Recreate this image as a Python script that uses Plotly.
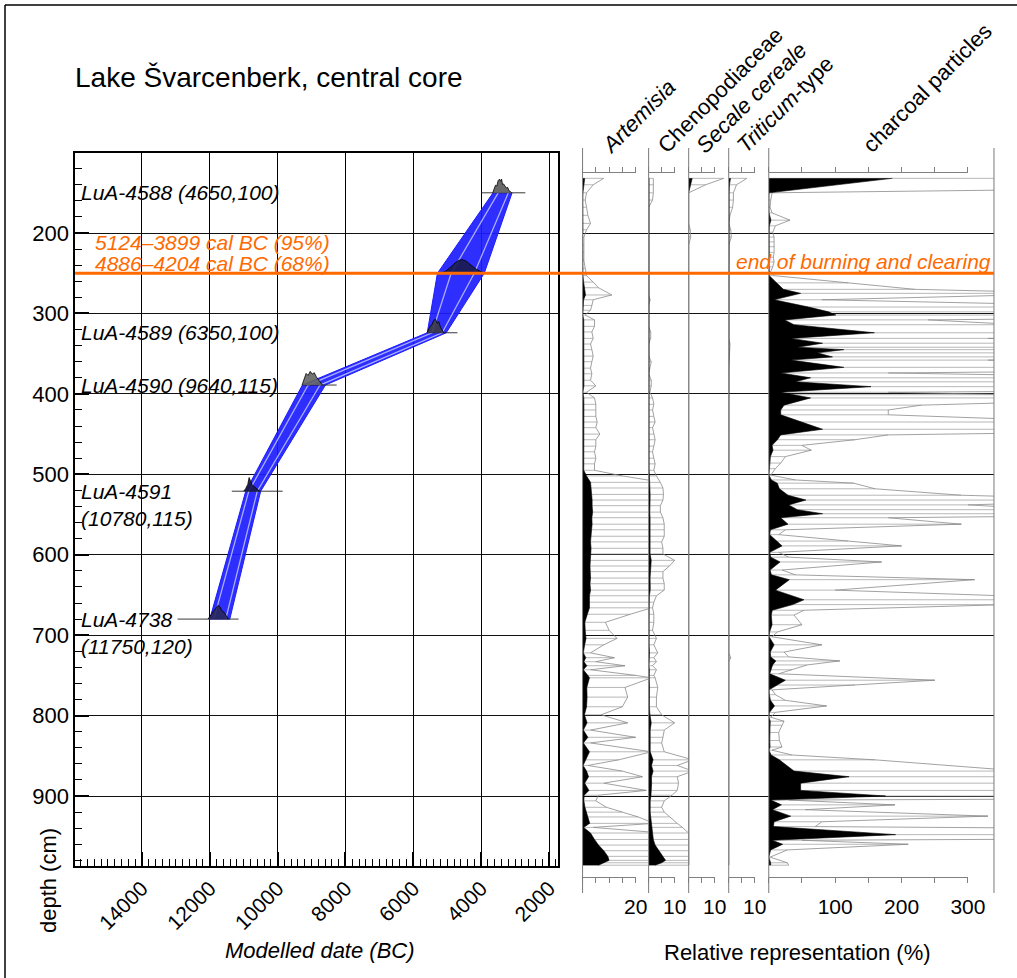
import plotly.graph_objects as go

W, H = 1017, 978          # reference picture size (positions below are in these pixels)
FIG_W = 1036              # page width seen by the headless browser before it is photographed at 1017
FONT = "Liberation Sans, Arial, Helvetica, sans-serif"


def fx(p):
    return p / W


def fy(p):
    return 1 - p / H


# ---------------- chronology data ----------------
title_text = "Lake Švarcenberk, central core"
lab_codes = ["LuA-4588", "LuA-4589", "LuA-4590", "LuA-4591", "LuA-4738"]
c14_age = [4650, 6350, 9640, 10780, 11750]
c14_err = [100, 100, 115, 115, 120]
sample_depth = [150, 324, 389, 521, 680]
cal_old = [4000, 5590, 9270, 11350, 12950]
cal_young = [2700, 4700, 8260, 9850, 11150]
label_two_lines = [False, False, False, True, True]

boundary_depth = 250
boundary_old = 5500
boundary_young = 3235
boundary_label = "end of burning and clearing"
boundary_95 = "5124–3899 cal BC (95%)"
boundary_68 = "4886–4204 cal BC (68%)"

model_depth = [150, 250, 324, 389, 521, 680]
model_old95 = [3650, 5290, 5590, 9270, 10940, 12000]
model_young95 = [3090, 3910, 5030, 8590, 10500, 11410]
model_old68 = [3500, 4886, 5450, 9100, 10850, 11880]
model_young68 = [3200, 4204, 5150, 8750, 10600, 11530]

# probability distributions (relative) drawn above each dated level
dist_4588_dates = [3660, 3620, 3580, 3540, 3500, 3460, 3430, 3400, 3370, 3340, 3300, 3260, 3220, 3180, 3140, 3100]
dist_4588_prob = [0, 0.25, 0.55, 0.5, 0.9, 1.0, 0.85, 1.0, 0.6, 0.65, 0.5, 0.35, 0.4, 0.15, 0.1, 0]
dist_bound_dates = [5200, 5050, 4900, 4750, 4650, 4560, 4450, 4300, 4150, 4000, 3850]
dist_bound_prob = [0, 0.15, 0.45, 0.8, 0.95, 1.0, 0.9, 0.6, 0.3, 0.1, 0]
dist_4589_dates = [5600, 5550, 5500, 5450, 5400, 5350, 5300, 5250, 5200, 5150, 5100]
dist_4589_prob = [0, 0.3, 0.5, 0.6, 0.9, 1.0, 0.7, 0.8, 0.4, 0.2, 0]
dist_4590_dates = [9280, 9220, 9160, 9100, 9040, 8980, 8920, 8860, 8800, 8740, 8680]
dist_4590_prob = [0, 0.4, 0.85, 0.7, 1.0, 0.8, 0.9, 0.6, 0.4, 0.2, 0]
dist_4591_dates = [11000, 10940, 10880, 10840, 10800, 10760, 10700, 10640, 10580, 10530]
dist_4591_prob = [0, 0.2, 0.5, 1.0, 0.75, 0.5, 0.35, 0.2, 0.1, 0]
dist_4738_dates = [12050, 11980, 11900, 11820, 11760, 11700, 11640, 11580, 11520, 11450]
dist_4738_prob = [0, 0.3, 0.55, 0.8, 1.0, 0.9, 0.6, 0.5, 0.25, 0]

# ---------------- pollen data (%) ----------------
pollen_depth = [132, 140, 150, 159, 168, 178, 188, 196, 205, 215, 224, 234, 244, 253, 261, 268, 277, 283,
                290, 296, 302, 308, 316, 323, 331, 338, 345, 353, 360, 368, 375, 383, 390, 398, 405, 413,
                420, 428, 435, 442, 450, 457, 465, 472, 480, 487, 495, 502, 510, 517, 525, 532, 539, 547,
                554, 562, 569, 577, 584, 592, 599, 607, 614, 621, 629, 636, 644, 651, 659, 666, 674, 684,
                694, 704, 712, 722, 728, 733, 738, 743, 750, 753, 765, 777, 789, 799, 809, 818, 827, 834,
                845, 855, 862, 869, 876, 884, 893, 899, 906, 914, 920, 926, 934, 939, 946, 954, 961, 968,
                975, 980, 983, 986]
artemisia = [0.8, 0.4, 0.15, 0.1, 0.15, 0.2, 0.3, 0.15, 0.05, 0.05, 0.05, 0.05, 0.1, 0.15, 0.4, 0.6, 1.1, 0.4,
             0.35, 0.3, 0.1, 0.45, 0.45, 0.35, 0.4, 0.3, 0.35, 0.4, 0.35, 0.3, 0.35, 0.3, 0.5, 0.15, 0.45, 0.5,
             0.5, 0.5, 0.55, 0.5, 0.65, 0.5, 0.5, 0.45, 0.5, 0.45, 0.45, 1.5, 3.0, 3.2, 3.5, 3.6, 3.6, 3.8,
             3.5, 3.6, 3.4, 3.2, 3.0, 3.2, 3.0, 3.0, 2.8, 2.9, 3.0, 2.8, 3.0, 2.6, 2.6, 2.6, 1.8, 0.86,
             1.0, 1.3, 0.8, 0.3, 1.2, 0.5, 1.6, 0.3, 2.0, 2.6, 1.6, 1.7, 1.5, 0.7, 1.7, 0.3, 2.0, 0.3,
             2.6, 1.36, 0.2, 1.5, 2.26, 0.8, 2.4, 0.6, 0.5, 0.9, 1.5, 2.1, 2.7, 0.4, 3.0, 4.5, 6.0, 8.0,
             9.5, 10.0, 8.0, 6.0]
chenopodiaceae = [0.18, 0.18, 0.18, 0.15, 0, 0, 0, 0, 0, 0, 0, 0, 0, 0, 0, 0, 0, 0.06,
                  0, 0, 0, 0, 0, 0.08, 0.08, 0, 0, 0, 0.1, 0.05, 0, 0.1, 0.1, 0.05, 0.15, 0.2,
                  0.15, 0.2, 0.25, 0.15, 0.2, 0.25, 0.2, 0.15, 0.2, 0.25, 0.2, 0.3, 0.45, 0.55, 0.57, 0.55, 0.45, 0.45,
                  0.55, 0.6, 0.6, 0.6, 0.5, 0.55, 0.55, 1.0, 0.8, 0.55, 0.55, 0.6, 0.6, 0.3, 0.2, 0.15, 0.2, 0.2,
                  0.15, 0.3, 0.2, 0.35, 0.2, 0.3, 0.15, 0.3, 0.2, 0.25, 0.35, 0.3, 0.3, 0.5, 1.0, 0.6, 0.55, 0.5,
                  0.6, 1.7, 1.1, 1.7, 1.1, 1.15, 1.1, 0.9, 0.6, 0.5, 0.6, 0.8, 1.1, 1.3, 1.5, 1.8, 2.5, 4.0,
                  5.5, 6.5, 5.0, 2.5]
secale_cereale = [1.35, 0.65, 0, 0, 0, 0, 0, 0.06, 0.08, 0, 0, 0, 0, 0, 0, 0, 0, 0,
                  0, 0, 0, 0, 0, 0, 0, 0, 0, 0, 0, 0, 0, 0, 0, 0, 0, 0,
                  0, 0, 0, 0, 0, 0, 0, 0, 0, 0, 0, 0, 0, 0, 0, 0, 0, 0,
                  0, 0, 0, 0, 0, 0, 0, 0, 0, 0, 0, 0, 0, 0, 0, 0, 0, 0,
                  0, 0, 0, 0, 0, 0, 0, 0, 0, 0, 0, 0, 0, 0, 0, 0, 0, 0,
                  0, 0, 0, 0, 0, 0, 0, 0, 0, 0, 0, 0, 0, 0, 0, 0, 0, 0,
                  0, 0, 0, 0]
triticum_type = [0.7, 0.3, 0.18, 0.18, 0.15, 0.05, 0, 0.08, 0.1, 0, 0, 0, 0, 0, 0, 0, 0, 0,
                 0, 0, 0, 0, 0, 0, 0, 0.05, 0.04, 0, 0, 0, 0, 0, 0, 0, 0, 0,
                 0, 0, 0, 0, 0, 0, 0, 0, 0, 0, 0, 0, 0, 0, 0, 0, 0, 0,
                 0, 0, 0, 0, 0, 0, 0, 0, 0, 0, 0, 0, 0, 0, 0, 0, 0, 0,
                 0, 0, 0, 0, 0.08, 0, 0, 0, 0, 0, 0, 0, 0, 0, 0, 0, 0, 0,
                 0, 0, 0, 0, 0, 0, 0, 0, 0, 0, 0, 0, 0, 0, 0, 0, 0, 0,
                 0, 0, 0, 0]

charcoal_depth = [132, 150, 159, 168, 175, 184, 191, 199, 205, 211, 217, 224, 230, 236, 242, 248, 253, 262,
                  270, 275, 283, 292, 298, 302, 308, 314, 324, 331, 337, 342, 345, 349, 354, 358, 367, 374,
                  380, 385, 391, 398, 401, 405, 414, 420, 426, 435, 444, 451, 457, 464, 470, 478, 486, 493,
                  501, 507, 511, 518, 526, 532, 538, 544, 549, 554, 562, 569, 575, 583, 589, 597, 603, 609,
                  619, 625, 631, 644, 656, 662, 669, 675, 687, 696, 702, 712, 721, 727, 732, 737, 743, 748,
                  756, 762, 768, 774, 781, 788, 796, 802, 807, 812, 821, 831, 839, 843, 849, 855, 869, 876,
                  884, 893, 900, 905, 911, 917, 925, 932, 938, 948, 955, 960, 967, 976, 983, 986]
charcoal_particles = [186, 0.5, 0.3, 0.2, 0.5, 3.2, 1.0, 0.6, 0.8, 0.8, 0.9, 0.8, 0.7, 0.8, 0.6, 0.3, 0.8, 12,
                      22, 48, 8, 60, 90, 101, 24, 38, 159, 33, 81, 43, 113, 73, 96, 33, 113, 18,
                      63, 40, 154, 18, 38, 63, 23, 18, 18, 50, 81, 18, 13, 5, 6.4, 2.5, 1.8, 1.0,
                      0.3, 4, 12.8, 16, 29, 56, 30, 43, 81, 18, 29, 2.5, 1.5, 12, 20, 1.5, 3, 17,
                      2, 4, 31, 10, 53, 36, 5.3, 3.8, 5, 1.3, 0.5, 8, 2.3, 3, 10.7, 5.8, 3.5, 1.5,
                      25, 13, 0.5, 1, 2.5, 8.7, 1, 0.3, 2.3, 2.0, 1.5, 1.6, 2, 0.5, 3.5, 16, 38, 121,
                      48, 48, 176, 3, 19, 5.5, 33, 8, 7, 191, 5, 21, 2.8, 0.2, 2.8, 3]

EXAG = 10  # exaggeration factor of the outline curves

panel_names = ["<i>Artemisia</i>", "Chenopodiaceae", "<i>Secale cereale</i>", "<i>Triticum</i>-type",
               "charcoal particles"]
panel_depths = [pollen_depth, pollen_depth, pollen_depth, pollen_depth, charcoal_depth]
panel_values = [artemisia, chenopodiaceae, secale_cereale, triticum_type, charcoal_particles]
scale_tickvals = [[0, 5, 10, 15, 20], [0, 5, 10], [0, 5, 10], [0, 5, 10], [0, 50, 100, 150, 200, 250, 300]]
scale_ticktext = [["", "", "", "", "20"], ["", "", "10"], ["", "", "10"], ["", "", "10"],
                  ["", "", "100", "", "200", "", "300"]]

# ---------------- layout geometry (pixels) ----------------
panel_left = [582, 648, 688, 728, 768]
panel_right = [648, 688, 728, 768, 993]
panel_max = [24.9, 15.4, 15.4, 15.4, 339.2]
header_center = [(638, 117), (719, 90), (751, 98), (784, 104), (927, 88)]
HUMP_H = 17

fig = go.Figure()

# ----- age-depth model band -----
fig.add_trace(go.Scatter(
    x=model_old95 + model_young95[::-1], y=model_depth + model_depth[::-1],
    fill="toself", fillcolor="rgba(28,28,255,0.92)", mode="lines",
    line=dict(color="#1c1cff", width=1), hoverinfo="skip", xaxis="x", yaxis="y"))
for series in (model_old68, model_young68):
    fig.add_trace(go.Scatter(x=series, y=model_depth, mode="lines",
                             line=dict(color="#a9aeff", width=1.3), hoverinfo="skip",
                             xaxis="x", yaxis="y"))

# ----- calibrated ranges (horizontal lines) -----
lx, ly = [], []
for o, yng, d in zip(cal_old + [boundary_old], cal_young + [boundary_young], sample_depth + [boundary_depth]):
    lx += [o, yng, None]
    ly += [d, d, None]
fig.add_trace(go.Scatter(x=lx, y=ly, mode="lines", line=dict(color="#222", width=0.9),
                         hoverinfo="skip", xaxis="x", yaxis="y"))

# ----- probability humps -----
humps = [
    (dist_4588_dates, dist_4588_prob, sample_depth[0], "rgba(90,90,90,0.9)"),
    (dist_bound_dates, dist_bound_prob, boundary_depth, "rgba(28,28,80,0.92)"),
    (dist_4589_dates, dist_4589_prob, sample_depth[1], "rgba(60,60,70,0.9)"),
    (dist_4590_dates, dist_4590_prob, sample_depth[2], "rgba(100,100,100,0.9)"),
    (dist_4591_dates, dist_4591_prob, sample_depth[3], "rgba(25,25,70,0.92)"),
    (dist_4738_dates, dist_4738_prob, sample_depth[4], "rgba(40,40,90,0.9)"),
]
for dates, prob, d, col in humps:
    fig.add_trace(go.Scatter(x=dates, y=[d - p * HUMP_H for p in prob], fill="toself",
                             fillcolor=col, mode="lines", line=dict(color="black", width=0.8),
                             hoverinfo="skip", xaxis="x", yaxis="y"))

# ----- pollen / charcoal panels -----
for i, (deps, vals) in enumerate(zip(panel_depths, panel_values)):
    ax = "x%d" % (i + 2)
    hx, hy = [], []
    for d, v in zip(deps, vals):
        hx += [0, v * EXAG, None]
        hy += [d, d, None]
    fig.add_trace(go.Scatter(x=hx, y=hy, mode="lines", line=dict(color="#9a9a9a", width=0.7),
                             hoverinfo="skip", xaxis=ax, yaxis="y"))
    fig.add_trace(go.Scatter(x=[v * EXAG for v in vals], y=deps, mode="lines",
                             line=dict(color="#8a8a8a", width=0.8), hoverinfo="skip",
                             xaxis=ax, yaxis="y"))
    fig.add_trace(go.Scatter(x=vals, y=deps, mode="lines", fill="tozerox", fillcolor="black",
                             line=dict(color="black", width=0.6), hoverinfo="skip",
                             xaxis=ax, yaxis="y"))
    # invisible trace so the scale-bar axis is drawn
    fig.add_trace(go.Scatter(x=[0], y=[0], mode="markers", marker=dict(opacity=0),
                             hoverinfo="skip", xaxis="x%d" % (i + 7), yaxis="y2"))

layout = dict(
    width=FIG_W, height=H, autosize=False, margin=dict(l=0, r=0, t=0, b=0),
    paper_bgcolor="white", plot_bgcolor="rgba(0,0,0,0)", showlegend=False,
    font=dict(family=FONT, color="black", size=21),
    xaxis=dict(domain=[fx(75), fx(557)], range=[15970, 1750], anchor="y",
               tick0=0, dtick=2000, tickformat="d", tickangle=-45,
               ticks="inside", ticklen=14, tickwidth=2, tickcolor="black",
               minor=dict(ticks="inside", ticklen=7, dtick=200, tickcolor="black", tickwidth=1),
               showline=True, linecolor="black", linewidth=1.5, mirror=True,
               showgrid=True, gridcolor="black", gridwidth=1, zeroline=False,
               tickfont=dict(size=21)),
    yaxis=dict(domain=[fy(866), fy(153)], range=[987, 100.5], anchor="x",
               tick0=0, dtick=100, ticks="inside", ticklen=14, tickwidth=2, tickcolor="black",
               minor=dict(ticks="inside", ticklen=7, dtick=20, tickcolor="black", tickwidth=1),
               showline=True, linecolor="black", linewidth=1.5, mirror=True,
               showgrid=True, gridcolor="#111", gridwidth=1.2, zeroline=False,
               tickfont=dict(size=22)),
    yaxis2=dict(domain=[fy(877), fy(173)], range=[0, 1], visible=False, anchor="x7"),
)
for i in range(5):
    layout["xaxis%d" % (i + 2)] = dict(domain=[fx(panel_left[i]), fx(panel_right[i])],
                                       range=[0, panel_max[i]], anchor="y", visible=False)
    sm = scale_tickvals[i][-1]
    right = panel_left[i] + sm / panel_max[i] * (panel_right[i] - panel_left[i])
    layout["xaxis%d" % (i + 7)] = dict(
        domain=[fx(panel_left[i]), fx(right)], range=[0, sm], anchor="y2",
        tickmode="array", tickvals=scale_tickvals[i], ticktext=scale_ticktext[i],
        ticks="outside", ticklen=5, tickcolor="#808080", tickwidth=1,
        showline=True, linecolor="#808080", linewidth=1, mirror="ticks",
        showgrid=False, zeroline=False, tickfont=dict(size=21), ticklabelstandoff=6)
fig.update_layout(**layout)

shapes = []
# outer frame (left and top edges; the others fall outside the picture)
shapes.append(dict(type="line", xref="paper", yref="paper", x0=fx(5), x1=fx(5), y0=0, y1=fy(5),
                   line=dict(color="black", width=1.5), layer="above"))
shapes.append(dict(type="line", xref="paper", yref="paper", x0=fx(5), x1=1, y0=fy(5), y1=fy(5),
                   line=dict(color="black", width=1.5), layer="above"))
# panel separators
for p in panel_left + [panel_right[-1]]:
    shapes.append(dict(type="line", xref="paper", yref="paper", x0=fx(p), x1=fx(p), y0=fy(893), y1=fy(148),
                       line=dict(color="#7a7a7a", width=1), layer="above"))
# boundary line
shapes.append(dict(type="line", xref="paper", yref="y", x0=fx(75), x1=fx(993),
                   y0=boundary_depth, y1=boundary_depth, line=dict(color="#FF6A00", width=3),
                   layer="above"))
fig.update_layout(shapes=shapes)

ann = []
ann.append(dict(text=title_text, xref="paper", yref="paper", x=fx(73), y=fy(78), xanchor="left",
                yanchor="middle", showarrow=False, font=dict(size=28)))
for code, a, e, d, two in zip(lab_codes, c14_age, c14_err, sample_depth, label_two_lines):
    txt = "<i>%s%s(%d,%d)</i>" % (code, "<br>" if two else " ", a, e)
    ann.append(dict(text=txt, xref="paper", yref="y", x=fx(79), y=d, xanchor="left", yanchor="middle",
                    yshift=-14 if two else 0, align="left", showarrow=False, font=dict(size=21)))
ann.append(dict(text="<i>%s</i>" % boundary_95, xref="paper", yref="y", x=fx(93), y=boundary_depth,
                xanchor="left", yanchor="middle", yshift=31, showarrow=False,
                font=dict(size=21, color="#FF6A00")))
ann.append(dict(text="<i>%s</i>" % boundary_68, xref="paper", yref="y", x=fx(93), y=boundary_depth,
                xanchor="left", yanchor="middle", yshift=10, showarrow=False,
                font=dict(size=21, color="#FF6A00")))
ann.append(dict(text="<i>%s</i>" % boundary_label, xref="paper", yref="y", x=fx(992), y=boundary_depth,
                xanchor="right", yanchor="middle", yshift=12, showarrow=False,
                font=dict(size=21, color="#FF6A00")))
for name, (cx, cy) in zip(panel_names, header_center):
    ann.append(dict(text=name, xref="paper", yref="paper", x=fx(cx), y=fy(cy), xanchor="center",
                    yanchor="middle", textangle=-45, showarrow=False, font=dict(size=22)))
ann.append(dict(text="depth (cm)", xref="paper", yref="paper", x=fx(48), y=fy(881), textangle=-90,
                xanchor="center", yanchor="middle", showarrow=False, font=dict(size=22)))
ann.append(dict(text="<i>Modelled date (BC)</i>", xref="paper", yref="paper", x=fx(320), y=fy(950),
                xanchor="center", yanchor="middle", showarrow=False, font=dict(size=22)))
ann.append(dict(text="Relative representation (%)", xref="paper", yref="paper", x=fx(797), y=fy(952),
                xanchor="center", yanchor="middle", showarrow=False, font=dict(size=22)))
fig.update_layout(annotations=ann)

fig.write_html("out.html",
               config={"responsive": False, "displayModeBar": False},
               post_script="document.body.style.margin='0';"
                           "document.documentElement.style.overflow='hidden';"
                           "document.body.style.overflow='hidden';")
